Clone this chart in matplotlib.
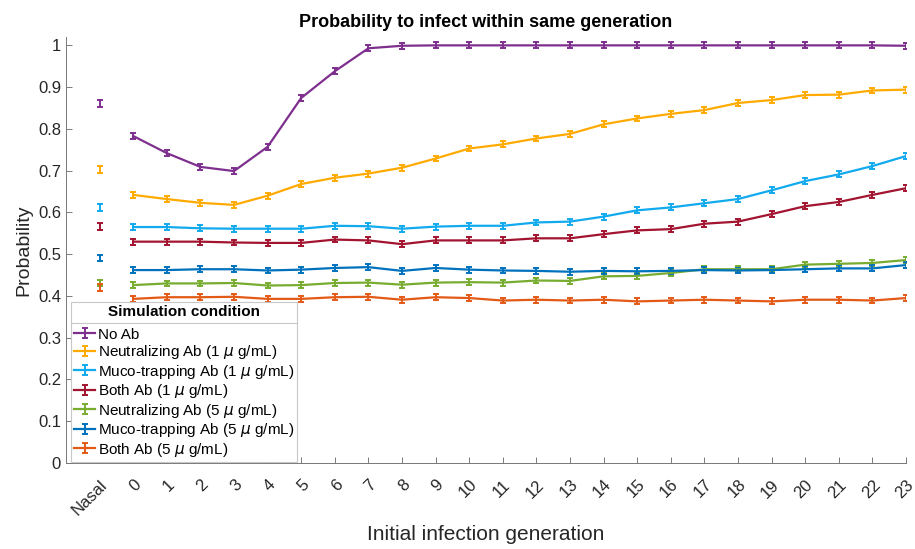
import matplotlib
matplotlib.use('Agg')
import matplotlib.pyplot as plt
import matplotlib.transforms as mtransforms
from matplotlib.container import ErrorbarContainer
from matplotlib.legend_handler import HandlerErrorbar
from matplotlib.lines import Line2D
from matplotlib.ticker import FormatStrFormatter
import numpy as np

plt.rcParams['font.family'] = ['Liberation Sans', 'DejaVu Sans']
plt.rcParams['mathtext.fontset'] = 'dejavusans'

tick_labels = ['Nasal'] + [str(g) for g in range(24)]

series_names = [
    'No Ab',
    'Neutralizing Ab (1 $\\mu$ g/mL)',
    'Muco-trapping Ab (1 $\\mu$ g/mL)',
    'Both Ab (1 $\\mu$ g/mL)',
    'Neutralizing Ab (5 $\\mu$ g/mL)',
    'Muco-trapping Ab (5 $\\mu$ g/mL)',
    'Both Ab (5 $\\mu$ g/mL)',
]
colors = ['#7E2F8E', '#FFAA00', '#12AAEE', '#A2142F', '#77AC30', '#0072BD', '#E35A17']

# nasal value for each condition (same order as series_names)
nasal = [0.860, 0.702, 0.612, 0.566, 0.431, 0.491, 0.421]
nasal_err = 0.008

no_ab = [0.783, 0.742, 0.709, 0.699, 0.757, 0.874, 0.938, 0.993, 0.999, 1.0, 1.0, 1.0,
         1.0, 1.0, 1.0, 1.0, 1.0, 1.0, 1.0, 1.0, 1.0, 1.0, 1.0, 0.999]
neut1 = [0.642, 0.632, 0.623, 0.618, 0.640, 0.668, 0.683, 0.693, 0.707, 0.729, 0.753, 0.763,
         0.777, 0.788, 0.811, 0.825, 0.836, 0.845, 0.862, 0.869, 0.881, 0.882, 0.892, 0.894]
muco1 = [0.565, 0.565, 0.562, 0.561, 0.561, 0.561, 0.568, 0.567, 0.561, 0.566, 0.568, 0.568,
         0.576, 0.578, 0.590, 0.605, 0.612, 0.622, 0.632, 0.653, 0.675, 0.691, 0.711, 0.735]
both1 = [0.530, 0.530, 0.530, 0.528, 0.527, 0.527, 0.535, 0.533, 0.524, 0.533, 0.533, 0.533,
         0.538, 0.538, 0.548, 0.557, 0.560, 0.573, 0.578, 0.596, 0.615, 0.625, 0.642, 0.658]
neut5 = [0.426, 0.430, 0.430, 0.431, 0.425, 0.426, 0.431, 0.432, 0.427, 0.432, 0.433, 0.432,
         0.437, 0.436, 0.447, 0.448, 0.455, 0.464, 0.464, 0.464, 0.475, 0.477, 0.479, 0.486]
muco5 = [0.462, 0.462, 0.464, 0.464, 0.461, 0.463, 0.467, 0.469, 0.460, 0.467, 0.463, 0.461,
         0.460, 0.458, 0.460, 0.459, 0.460, 0.462, 0.461, 0.462, 0.464, 0.466, 0.466, 0.474]
both5 = [0.393, 0.397, 0.397, 0.398, 0.393, 0.393, 0.397, 0.398, 0.391, 0.397, 0.395, 0.389,
         0.391, 0.389, 0.391, 0.387, 0.389, 0.391, 0.389, 0.387, 0.391, 0.391, 0.389, 0.395]
gen_err = 0.007

series = [no_ab, neut1, muco1, both1, neut5, muco5, both5]


def main():
    fig = plt.figure(figsize=(9.15, 5.49), dpi=100)
    ax = fig.add_axes([0.0721, 0.1566, 0.9181, 0.776])

    x_nasal = 1
    x_gen = np.arange(2, 2 + len(no_ab))

    handles = []
    for name, vals, nas, col in zip(series_names, series, nasal, colors):
        h = ax.errorbar(x_gen, vals, yerr=gen_err, color=col, lw=1.6,
                        elinewidth=1.4, capsize=2.2, capthick=1.4, label=name)
        ax.errorbar([x_nasal], [nas], yerr=nasal_err, color=col, lw=0,
                    elinewidth=1.4, capsize=2.2, capthick=1.4)
        handles.append(h)

    ax.set_xlim(0, 25)
    ax.set_ylim(0, 1.02)
    ax.set_xticks(np.arange(1, 26))
    ax.set_xticklabels(tick_labels, rotation=45, ha='right', va='top',
                       rotation_mode='anchor', fontsize=12)
    offset = mtransforms.ScaledTranslation(9 / 72, 0, fig.dpi_scale_trans)
    for lab in ax.get_xticklabels():
        lab.set_transform(lab.get_transform() + offset)
    ax.set_yticks(np.arange(0, 1.01, 0.1))
    ax.yaxis.set_major_formatter(FormatStrFormatter('%g'))
    ax.tick_params(axis='both', direction='in', length=4, width=0.6,
                   color='#666666', labelcolor='#262626', labelsize=12)
    ax.tick_params(axis='x', pad=10)

    for side in ['top', 'right']:
        ax.spines[side].set_visible(False)
    for side in ['left', 'bottom']:
        ax.spines[side].set_color('#777777')
        ax.spines[side].set_linewidth(0.7)

    ax.set_title('Probability to infect within same generation', fontsize=13,
                 fontweight='bold', pad=7)
    ax.set_xlabel('Initial infection generation', fontsize=15, color='#262626',
                  labelpad=5)
    ax.set_ylabel('Probability', fontsize=14, color='#262626', labelpad=4)

    leg = ax.legend(handles=handles, loc='lower left', bbox_to_anchor=(0.006, 0.003),
                    borderaxespad=0, fontsize=11, title='Simulation condition',
                    title_fontproperties={'weight': 'bold', 'size': 11},
                    fancybox=False, edgecolor='#c8c8c8', framealpha=1,
                    handlelength=1.4, handletextpad=0.15, labelspacing=0.1,
                    borderpad=0.2,
                    handler_map={ErrorbarContainer: HandlerErrorbar(yerr_size=0.33)})
    leg.get_frame().set_linewidth(0.8)
    leg._legend_box.sep = 6

    # separator line under legend title, like the header box
    fig.canvas.draw()
    renderer = fig.canvas.get_renderer()
    fb = leg.get_frame().get_window_extent(renderer)
    tb = leg.get_title().get_window_extent(renderer)
    t0 = leg.get_texts()[0].get_window_extent(renderer)
    y_sep = (tb.y0 + t0.y1) / 2
    inv = fig.transFigure.inverted()
    (x0, y0), (x1, _) = inv.transform([(fb.x0, y_sep), (fb.x1, y_sep)])
    fig.add_artist(Line2D([x0, x1], [y0, y0], transform=fig.transFigure,
                          color='#c8c8c8', lw=0.8, zorder=10))

    fig.savefig('out.png', dpi=100)


if __name__ == '__main__':
    main()
